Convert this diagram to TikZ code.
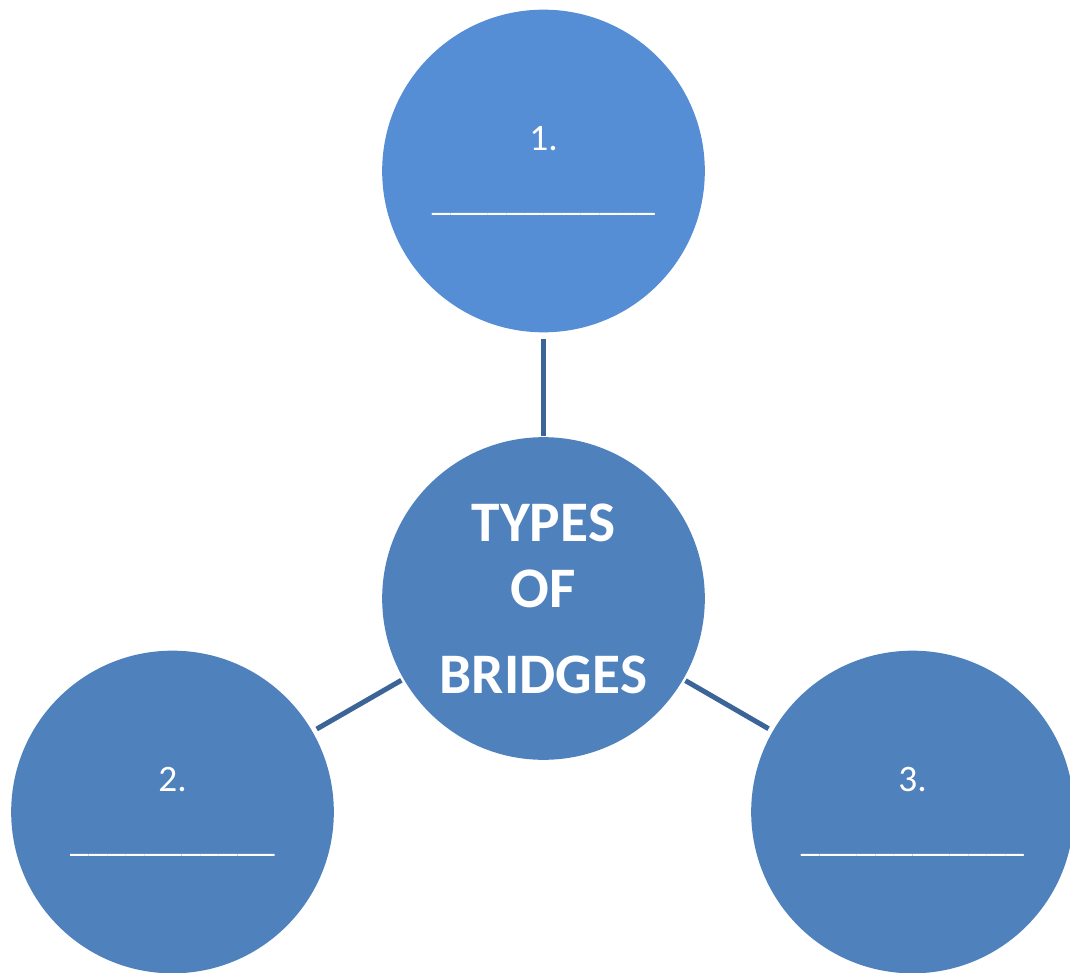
\documentclass[tikz,border=0pt]{standalone}
\usepackage{fontspec}
\setmainfont{Carlito}
\newfontfamily\hubfont[Kerning=Off]{Carlito}
\definecolor{topblue}{HTML}{558ED5}
\definecolor{midblue}{HTML}{4F81BD}
\definecolor{linkblue}{HTML}{3B6497}
\begin{document}
\begin{tikzpicture}[x=0.75pt,y=0.75pt,
  bubble/.style={circle,fill=midblue,draw=none,minimum size=242pt,inner sep=0pt,outer sep=0pt,
    text=white,align=center,font=\fontsize{28}{45}\selectfont},
  hub/.style={bubble,font=\hubfont\bfseries\fontsize{43}{49.5}\selectfont},
  link/.style={draw=linkblue,line width=3.75pt}]
\useasboundingbox (0,0) rectangle (1070,972);
\node[bubble,fill=topblue] (c1) at (543.5,801) {1.\\\_\_\_\_\_\_\_\_\_\_\_\_};
\node[hub] (c0) at (543.5,373.5) {TYPES\\OF\\[15pt]BRIDGES};
\node[bubble] (c2) at (172.5,160) {2.\\\_\_\_\_\_\_\_\_\_\_\_};
\node[bubble] (c3) at (912.5,160) {3.\\\_\_\_\_\_\_\_\_\_\_\_\_};
\draw[link,shorten <=5pt,shorten >=0.75pt] (c1) -- (c0);
\draw[link,shorten <=3.75pt,shorten >=2pt] (c2) -- (c0);
\draw[link,shorten <=3.75pt,shorten >=2pt] (c3) -- (c0);
\end{tikzpicture}
\end{document}
